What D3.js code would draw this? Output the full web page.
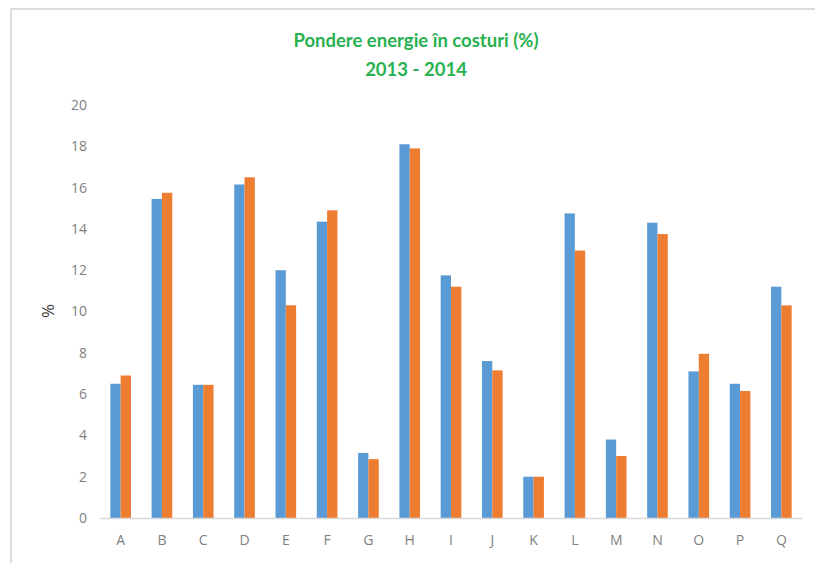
<!DOCTYPE html>
<html>
<head>
<meta charset="utf-8">
<script src="https://cdn.jsdelivr.net/npm/d3@7"></script>
<style>
  body { margin: 0; background: #fff; }
</style>
</head>
<body>
<div id="chart"></div>
<script>
// data
var categories = ["A","B","C","D","E","F","G","H","I","J","K","L","M","N","O","P","Q"];
var values2013 = [6.5, 15.45, 6.45, 16.15, 12.0, 14.35, 3.15, 18.1, 11.75, 7.6, 2.0, 14.75, 3.8, 14.3, 7.1, 6.5, 11.2];
var values2014 = [6.9, 15.75, 6.45, 16.5, 10.3, 14.9, 2.85, 17.9, 11.2, 7.15, 2.0, 12.95, 3.0, 13.75, 7.95, 6.15, 10.3];
var yTicks = [0, 2, 4, 6, 8, 10, 12, 14, 16, 18, 20];
var seriesNames = ["2013", "2014"];
var colors = ["#5b9bd5", "#ed7d31"];

var W = 815, H = 563;
var margin = {top: 105, right: 13, bottom: 45, left: 100},
    width = W - margin.left - margin.right,
    height = H - margin.top - margin.bottom;

var svg = d3.select("#chart")
  .append("svg")
    .attr("width", W)
    .attr("height", H);

// chart area frame (cropped screenshot look)
svg.append("rect")
  .attr("x", 11).attr("y", 9)
  .attr("width", 900).attr("height", 700)
  .attr("fill", "none")
  .attr("stroke", "#dcdcdc")
  .attr("stroke-width", 2);

// title
var title = svg.append("text")
  .attr("text-anchor", "middle")
  .attr("fill", "#27b14f")
  .style("font-family", "Lato, 'Open Sans', sans-serif")
  .style("font-weight", "bold")
  .style("font-size", "18.5px");
title.append("tspan").attr("x", 416).attr("y", 47).text("Pondere energie în costuri (%)");
title.append("tspan").attr("x", 416).attr("y", 76).text("2013 - 2014");

var g = svg.append("g")
  .attr("transform", "translate(" + margin.left + "," + margin.top + ")");

var x0 = d3.scaleBand().domain(categories).range([0, width]).paddingInner(0.5).paddingOuter(0.25);
var x1 = d3.scaleBand().domain(seriesNames).range([0, x0.bandwidth()]);
var y = d3.scaleLinear().domain([0, 20]).range([height, 0]);

// y axis labels only
var yAxis = g.append("g")
  .call(d3.axisLeft(y).tickValues(yTicks).tickSize(0).tickPadding(13));
yAxis.select(".domain").remove();
yAxis.selectAll("text")
  .attr("fill", "#7f7f7f")
  .style("font-family", "'Open Sans', sans-serif")
  .style("font-size", "14px");

// bars
var groups = g.selectAll(".grp")
  .data(categories)
  .enter().append("g")
    .attr("class", "grp")
    .attr("transform", function (d) { return "translate(" + x0(d) + ",0)"; });

groups.selectAll("rect")
  .data(function (d, i) { return [values2013[i], values2014[i]].map(function (v, j) { return {s: seriesNames[j], v: v, c: colors[j]}; }); })
  .enter().append("rect")
    .attr("x", function (d) { return x1(d.s); })
    .attr("y", function (d) { return y(d.v); })
    .attr("width", x1.bandwidth())
    .attr("height", function (d) { return height - y(d.v); })
    .attr("fill", function (d) { return d.c; });

// x axis
var xAxis = g.append("g")
  .attr("transform", "translate(0," + height + ")")
  .call(d3.axisBottom(x0).tickSize(0).tickPadding(17));
xAxis.select(".domain").attr("stroke", "#d9d9d9").attr("stroke-width", 1.5);
xAxis.selectAll("text")
  .attr("fill", "#7f7f7f")
  .style("font-family", "'Open Sans', sans-serif")
  .style("font-size", "14px");

// y label
svg.append("text")
  .attr("text-anchor", "middle")
  .attr("transform", "translate(54,311) rotate(-90)")
  .attr("fill", "#404040")
  .style("font-family", "'Open Sans', sans-serif")
  .style("font-size", "17px")
  .text("%");
</script>
</body>
</html>
